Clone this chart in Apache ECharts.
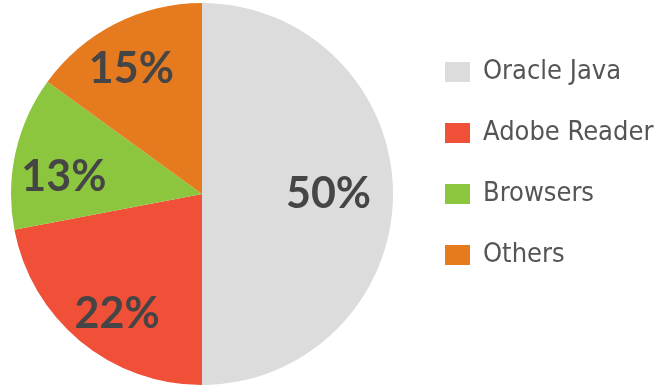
<!DOCTYPE html>
<html><head><meta charset="utf-8">
<script src="https://cdn.jsdelivr.net/npm/echarts@6/dist/echarts.min.js"></script>
<style>html,body{margin:0;padding:0;background:#fff}#c{width:658px;height:388px}</style>
</head><body><div id="c"></div>
<script>
const categories = ['Oracle Java', 'Adobe Reader', 'Browsers', 'Others'];
const values = [50, 22, 13, 15];
const colors = ['#dcdcdd', '#f04f38', '#8cc63f', '#e67a1f'];

// label nudges (style, in px)
const labelOffsets = [[-16, 0], [6, 10], [1, 14], [-6, 2]];

const chart = echarts.init(document.getElementById('c'), null, {renderer: 'canvas'});
const data = categories.map((n, i) => ({name: n, value: values[i], itemStyle: {color: colors[i]}}));
chart.setOption({
  animation: false,
  legend: {
    orient: 'vertical', left: 445, top: 58, padding: 0,
    icon: 'rect', itemWidth: 25, itemHeight: 20, itemGap: 33,
    data: categories,
    textStyle: {fontFamily: '"DejaVu Sans Condensed",sans-serif', fontSize: 27, lineHeight: 28, color: '#555', padding: [0,0,0,8]}
  },
  series: [{
    type: 'pie', center: [202, 194], radius: [0, 191], startAngle: 90, clockwise: true,
    silent: true, label: {show: false}, labelLine: {show: false},
    data: data
  }, {
    type: 'pie', center: [202, 194], radius: [88, 191], startAngle: 90, clockwise: true,
    silent: true,
    label: {show: true, position: 'inside', formatter: '{c}%', fontFamily: 'Lato, sans-serif', fontWeight: 'bold', fontSize: 43, color: '#454545'},
    labelLine: {show: false},
    data: data.map((d, i) => ({name: d.name, value: d.value, itemStyle: {color: 'rgba(0,0,0,0)'}, label: {offset: labelOffsets[i]}}))
  }]
});
</script></body></html>
